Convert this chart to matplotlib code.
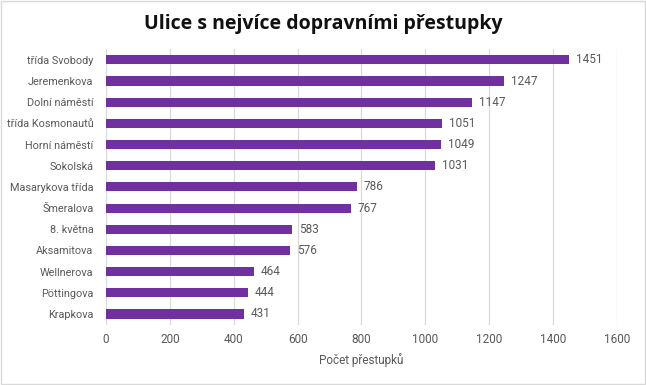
import matplotlib.pyplot as plt
from matplotlib.patches import Rectangle

streets = ['třída Svobody', 'Jeremenkova', 'Dolní náměstí', 'třída Kosmonautů',
           'Horní náměstí', 'Sokolská', 'Masarykova třída', 'Šmeralova',
           '8. května', 'Aksamitova', 'Wellnerova', 'Pöttingova', 'Krapkova']
counts = [1451, 1247, 1147, 1051, 1049, 1031, 786, 767, 583, 576, 464, 444, 431]
xticks = [0, 200, 400, 600, 800, 1000, 1200, 1400, 1600]

plt.rcParams['font.family'] = ['Roboto', 'DejaVu Sans']
grey = '#595959'

fig = plt.figure(figsize=(6.46, 3.85), dpi=100)
ax = fig.add_axes([0.164, 0.157, 0.791, 0.715])

y = list(range(len(streets)))
ax.barh(y, counts, height=0.43, color='#7030A0', zorder=3)
for yi, v in zip(y, counts):
    ax.text(v + 22, yi, str(v), va='center', ha='left', fontsize=8.5, color=grey)

ax.set_yticks(y)
ax.set_yticklabels(streets, fontsize=7.8, color=grey)
ax.set_ylim(len(streets) - 0.5, -0.5)
ax.set_xlim(0, 1600)
ax.set_xticks(xticks)
ax.set_xticklabels([str(t) for t in xticks], fontsize=8.5, color=grey)
ax.tick_params(length=0, pad=6)
ax.tick_params(axis='y', pad=9)
ax.grid(axis='x', color='#d9d9d9', linewidth=0.9, zorder=0)
for s in ax.spines.values():
    s.set_visible(False)
ax.set_xlabel('Počet přestupků', fontsize=8.5, color=grey, labelpad=5)

fig.text(0.5, 0.938, 'Ulice s nejvíce dopravními přestupky', ha='center', va='center',
         fontsize=14, fontweight='bold', color='#111111', family=['Open Sans', 'DejaVu Sans'])
fig.patches.append(Rectangle((0.002, 0.003), 0.996, 0.994, transform=fig.transFigure,
                             fill=False, edgecolor='#d9d9d9', linewidth=1))

fig.savefig('out.png', dpi=100)
